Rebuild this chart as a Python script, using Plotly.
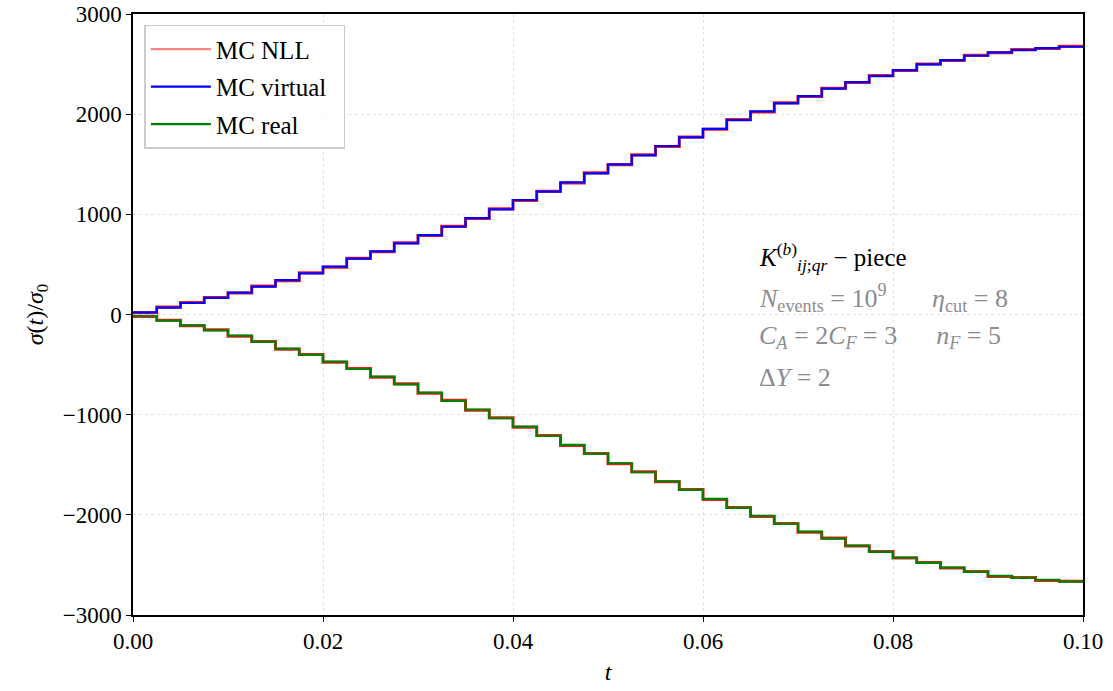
import numpy as np
import plotly.graph_objects as go

t_edges = np.linspace(0.0, 0.1, 41)

mc_virtual = [22, 68, 115, 165, 218, 278, 344, 411, 477, 557,
              631, 711, 793, 876, 963, 1050, 1143, 1226, 1319, 1409,
              1499, 1589, 1682, 1768, 1854, 1941, 2027, 2108, 2181, 2254,
              2320, 2380, 2440, 2497, 2540, 2583, 2617, 2640, 2660, 2673]
mc_real = [-15, -62, -108, -158, -211, -274, -341, -404, -471, -544,
           -621, -697, -780, -862, -950, -1036, -1120, -1213, -1302, -1392,
           -1485, -1575, -1665, -1751, -1841, -1931, -2011, -2091, -2168, -2237,
           -2307, -2370, -2427, -2480, -2527, -2570, -2610, -2630, -2650, -2667]
nll_virtual = [18, 74, 121, 170, 214, 284, 338, 416, 472, 562,
               626, 716, 788, 881, 958, 1055, 1138, 1231, 1314, 1414,
               1494, 1594, 1677, 1773, 1849, 1946, 2022, 2113, 2176, 2259,
               2315, 2385, 2436, 2502, 2536, 2588, 2613, 2645, 2656, 2677]
nll_real = [-20, -57, -113, -153, -216, -269, -346, -399, -476, -539,
            -626, -692, -785, -857, -955, -1031, -1125, -1208, -1307, -1387,
            -1490, -1570, -1670, -1746, -1846, -1926, -2016, -2086, -2173, -2232,
            -2312, -2365, -2432, -2475, -2532, -2565, -2615, -2625, -2655, -2662]

def stepy(v):
    return list(v) + [v[-1]]

FONT = "Liberation Serif"
fig = go.Figure()
fig.add_trace(go.Scatter(x=t_edges, y=stepy(nll_virtual), mode="lines", line_shape="hv",
                         line=dict(color="rgba(255,0,0,0.9)", width=3), name="MC NLL", showlegend=False))
fig.add_trace(go.Scatter(x=t_edges, y=stepy(nll_real), mode="lines", line_shape="hv",
                         line=dict(color="rgba(255,0,0,0.9)", width=3), name="MC NLL", showlegend=False))
fig.add_trace(go.Scatter(x=[None], y=[None], mode="lines", legendgroup="a",
                         line=dict(color="#ff8080", width=2.2), name="MC NLL  "))
fig.add_trace(go.Scatter(x=t_edges, y=stepy(mc_virtual), mode="lines", line_shape="hv", legendgroup="b",
                         line=dict(color="#0000ff", width=2.2), name="MC virtual  "))
fig.add_trace(go.Scatter(x=t_edges, y=stepy(mc_real), mode="lines", line_shape="hv", legendgroup="c",
                         line=dict(color="#008000", width=2.2), name="MC real  "))

axis_common = dict(showline=True, linecolor="black", linewidth=1.5, mirror=True,
                   ticks="outside", ticklen=5, tickwidth=1.2, tickcolor="black",
                   showgrid=True, gridcolor="#e0e0e0", griddash="dot", gridwidth=1,
                   zeroline=False, automargin=False,
                   tickfont=dict(family=FONT, size=23, color="black"))
fig.update_xaxes(range=[0, 0.1], tickvals=[0, 0.02, 0.04, 0.06, 0.08, 0.1],
                 ticktext=["0.00", "0.02", "0.04", "0.06", "0.08", "0.10"],
                 title=dict(text="<i>t</i>", font=dict(family=FONT, size=24, color="black"), standoff=10),
                 **axis_common)
fig.update_yaxes(range=[-3000, 3000], tickvals=[-3000, -2000, -1000, 0, 1000, 2000, 3000],
                 title=dict(text="<i>σ</i>(<i>t</i>)/<i>σ</i><sub>0</sub>", font=dict(family=FONT, size=24, color="black"), standoff=12),
                 **axis_common)

ann_x = 0.0657
fig.add_annotation(x=ann_x, y=574, xanchor="left", yanchor="middle", showarrow=False,
                   text="<i>K</i><sup>(<i>b</i>)</sup><sub><i>ij</i>;<i>qr</i></sub> − piece",
                   font=dict(family=FONT, size=25, color="black"))
gray = "#8c8c8c"
fig.add_annotation(x=ann_x, y=165, xanchor="left", yanchor="middle", showarrow=False,
                   text="<i>N</i><sub>events</sub> = 10<sup>9</sup>       <i>η</i><sub>cut</sub> = 8",
                   font=dict(family=FONT, size=26, color=gray))
fig.add_annotation(x=ann_x, y=-225, xanchor="left", yanchor="middle", showarrow=False,
                   text="<i>C</i><sub><i>A</i></sub> = 2<i>C</i><sub><i>F</i></sub> = 3      <i>n</i><sub><i>F</i></sub> = 5",
                   font=dict(family=FONT, size=26, color=gray))
fig.add_annotation(x=ann_x, y=-624, xanchor="left", yanchor="middle", showarrow=False,
                   text="Δ<i>Y</i> = 2",
                   font=dict(family=FONT, size=26, color=gray))

fig.update_layout(
    width=1113, height=691,
    margin=dict(l=133, r=30, t=14, b=76),
    plot_bgcolor="white", paper_bgcolor="white",
    font=dict(family=FONT, color="black"),
    legend=dict(x=0.012, y=0.982, xanchor="left", yanchor="top",
                bgcolor="rgba(255,255,255,0.8)", bordercolor="#cccccc", borderwidth=1.5,
                font=dict(family=FONT, size=25, color="black"),
                tracegroupgap=2, itemwidth=60),
)
fig.write_html("out.html")
